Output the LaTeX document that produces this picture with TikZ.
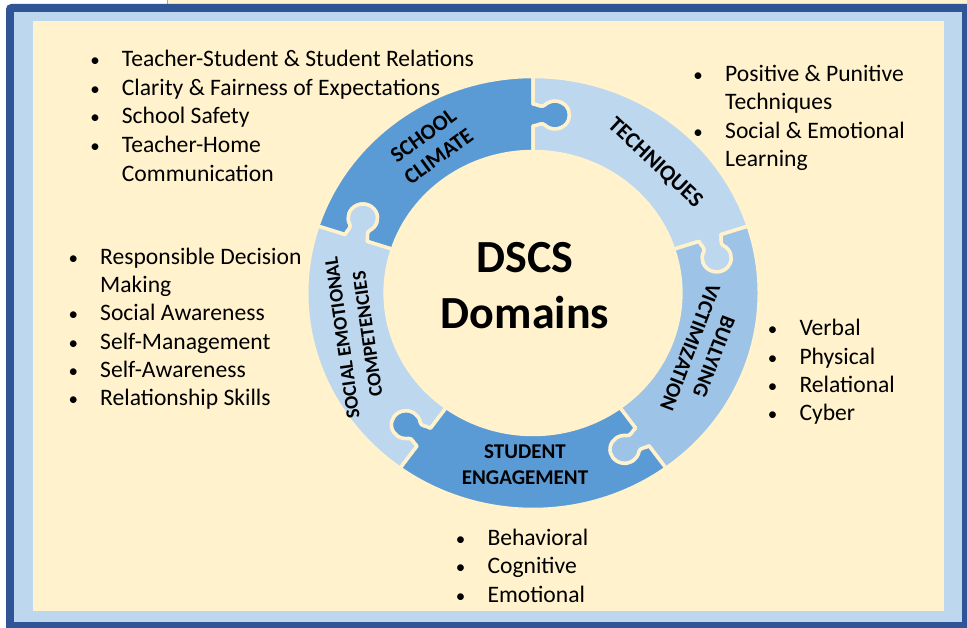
\documentclass[tikz,border=0pt]{standalone}
\usepackage{fontspec}
\setmainfont{Carlito}
\definecolor{cream}{HTML}{FFF2CC}
\definecolor{darkframe}{HTML}{2F5597}
\definecolor{lightband}{HTML}{BDD7EE}
\definecolor{pdark}{HTML}{5B9BD5}
\definecolor{plight}{HTML}{BDD7EE}
\definecolor{pmid}{HTML}{9DC3E6}
\newcommand{\Rout}{216.5}
\newcommand{\Rin}{141.5}
\newcommand{\Rmid}{178}
\newcommand{\puzzlepiece}[3]{%
  \pgfmathsetmacro\pieceA{#1-90}\pgfmathsetmacro\pieceB{#2-90}%
  \filldraw[piece, fill=#3] (#1:\Rout) arc[start angle=#1, end angle=#2, radius=\Rout]
   -- ([rotate=\pieceB]0,\Rmid+11) .. controls ([rotate=\pieceB]4,\Rmid+11) and ([rotate=\pieceB]8.5,\Rmid+7) .. ([rotate=\pieceB]11.1,\Rmid+9.9)
   arc[start angle=\pieceB+135, end angle=\pieceB-135, radius=14]
   .. controls ([rotate=\pieceB]8.5,\Rmid-7) and ([rotate=\pieceB]4,\Rmid-11) .. ([rotate=\pieceB]0,\Rmid-11)
   -- (#2:\Rin) arc[start angle=#2, end angle=#1, radius=\Rin]
   -- ([rotate=\pieceA]0,\Rmid-11) .. controls ([rotate=\pieceA]4,\Rmid-11) and ([rotate=\pieceA]8.5,\Rmid-7) .. ([rotate=\pieceA]11.1,\Rmid-9.9)
   arc[start angle=\pieceA-135, end angle=\pieceA+135, radius=14]
   .. controls ([rotate=\pieceA]8.5,\Rmid+7) and ([rotate=\pieceA]4,\Rmid+11) .. ([rotate=\pieceA]0,\Rmid+11)
   -- cycle;}
\tikzset{
  piece/.style={draw=cream, line width=3.5pt, line join=round},
  lst/.style={anchor=base west, font=\fontsize{23.6}{28}\selectfont, inner sep=0pt},
  bul/.style={anchor=base, font=\fontsize{19}{28}\selectfont, inner sep=0pt},
  ringlabel/.style={font=\fontsize{21}{25.5}\selectfont\bfseries, align=center, inner sep=0pt},
}
\begin{document}
\begin{tikzpicture}[x=1pt,y=1pt]
\useasboundingbox (0,0) rectangle (967,627);
% frame
\fill[white] (0,0) rectangle (967,627);
\fill[cream] (168,622) rectangle (967,627);
\draw[gray!70, line width=1pt] (167.5,622) -- (167.5,627);
\fill[darkframe, rounded corners=5pt] (6,-20) rectangle (990,623);
\fill[lightband] (14,5) rectangle (962,615);
\fill[cream] (33,16) rectangle (944,606);
% ring
\begin{scope}[shift={(533,334)}, xscale=1.045]
  \puzzlepiece{162}{90}{pdark}
  \puzzlepiece{90}{18}{plight}
  \puzzlepiece{18}{-54}{pmid}
  \puzzlepiece{-54}{-126}{pdark}
  \puzzlepiece{-126}{-198}{plight}
\end{scope}
% ring labels
\node[ringlabel, rotate=36, font=\fontsize{22}{26}\selectfont\bfseries] (lclimate) at (431,481) {SCHOOL\\CLIMATE};
\node[ringlabel, rotate=-43, font=\fontsize{22.5}{26}\selectfont\bfseries] (ltech) at (655,464) {TECHNIQUES};
\node[ringlabel, rotate=-111] (lbully) at (702,275) {BULLYING\\VICTIMIZATION};
\node[ringlabel] (lengage) at (525,162.5) {STUDENT\\ENGAGEMENT};
\node[ringlabel, rotate=98, font=\fontsize{19.5}{25.5}\selectfont\bfseries] (lsocial) at (355,291) {SOCIAL EMOTIONAL\\COMPETENCIES};
% centre title
\node[anchor=base, inner sep=0pt, font=\fontsize{46}{56}\selectfont\bfseries] (t1) at (525,354) {DSCS};
\node[anchor=base, inner sep=0pt, font=\fontsize{46}{56}\selectfont\bfseries] (t2) at (525,298) {Domains};
% top-left list
\node[bul] (b11) at (95,560.3) {•};
\node[lst] (s11) at (121.7,560.3) {Teacher-Student \& Student Relations};
\node[bul] (b12) at (95,531.7) {•};
\node[lst] (s12) at (121.7,531.7) {Clarity \& Fairness of Expectations};
\node[bul] (b13) at (95,503) {•};
\node[lst] (s13) at (121.7,503) {School Safety};
\node[bul] (b14) at (95,474.3) {•};
\node[lst] (s14) at (121.7,474.3) {Teacher-Home};
\node[lst] (s15) at (121.7,445.7) {Communication};
% techniques list
\node[bul] (b21) at (698,545.3) {•};
\node[lst] (s21) at (725,545.3) {Positive \& Punitive};
\node[lst] (s22) at (725,517) {Techniques};
\node[bul] (b23) at (698,488.7) {•};
\node[lst] (s23) at (725,488.7) {Social \& Emotional};
\node[lst] (s24) at (725,460.3) {Learning};
% left list
\node[bul] (b31) at (73.3,362.7) {•};
\node[lst] (s31) at (100,362.7) {Responsible Decision};
\node[lst] (s32) at (100,334.3) {Making};
\node[bul] (b33) at (73.3,306) {•};
\node[lst] (s33) at (100,306) {Social Awareness};
\node[bul] (b34) at (73.3,277.7) {•};
\node[lst] (s34) at (100,277.7) {Self-Management};
\node[bul] (b35) at (73.3,249.3) {•};
\node[lst] (s35) at (100,249.3) {Self-Awareness};
\node[bul] (b36) at (73.3,221) {•};
\node[lst] (s36) at (100,221) {Relationship Skills};
% right list
\node[bul] (b41) at (772.7,291) {•};
\node[lst] (s41) at (799.3,291) {Verbal};
\node[bul] (b42) at (772.7,262.7) {•};
\node[lst] (s42) at (799.3,262.7) {Physical};
\node[bul] (b43) at (772.7,234.3) {•};
\node[lst] (s43) at (799.3,234.3) {Relational};
\node[bul] (b44) at (772.7,206) {•};
\node[lst] (s44) at (799.3,206) {Cyber};
% bottom list
\node[bul] (b51) at (460.7,81.3) {•};
\node[lst] (s51) at (487.3,81.3) {Behavioral};
\node[bul] (b52) at (460.7,53) {•};
\node[lst] (s52) at (487.3,53) {Cognitive};
\node[bul] (b53) at (460.7,24.3) {•};
\node[lst] (s53) at (487.3,24.3) {Emotional};
\end{tikzpicture}
\end{document}
